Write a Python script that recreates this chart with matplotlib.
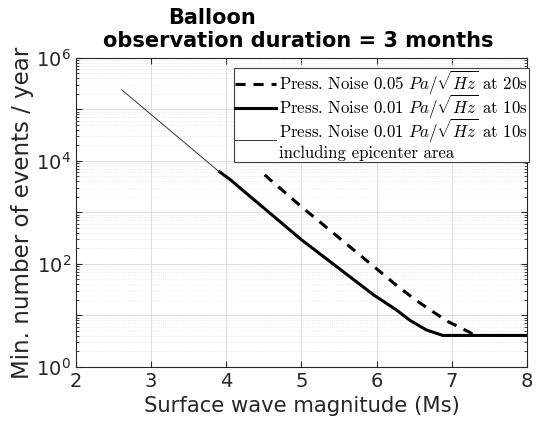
import matplotlib
matplotlib.use('Agg')
import matplotlib.pyplot as plt
import numpy as np
from matplotlib.font_manager import FontProperties
from matplotlib.ticker import LogLocator, FuncFormatter, NullFormatter

# Curves (magnitude Ms -> min. events / year)
mag_epi = [2.61, 3.91]
events_epi = [2.4e5, 6.1e3]

mag_10s = [3.91, 4.05, 5.0, 5.96, 6.26, 6.44, 6.66, 6.88, 8.0]
events_10s = [6166, 4365, 295, 25.1, 12.9, 8.1, 5.25, 4.1, 4.1]

mag_20s = [4.51, 5.0, 6.02, 6.26, 6.51, 6.73, 6.95, 7.24, 7.3]
events_20s = [5370, 1290, 76, 38.9, 20.4, 12.3, 7.6, 4.7, 4.1]

labels = [r'Press. Noise 0.05 $Pa/\sqrt{Hz}$ at 20s',
          r'Press. Noise 0.01 $Pa/\sqrt{Hz}$ at 10s',
          'Press. Noise 0.01 $Pa/\\sqrt{Hz}$ at 10s\nincluding epicenter area']

fig = plt.figure(figsize=(5.37, 4.23), dpi=100)
ax = fig.add_axes([0.1415, 0.1324, 0.8399, 0.7305])

ax.semilogy(mag_20s, events_20s, color='black', linewidth=2.2, dashes=(3.3, 2.6), label=labels[0])
ax.semilogy(mag_10s, events_10s, color='black', linewidth=2.2, label=labels[1])
ax.semilogy(mag_epi, events_epi, color='#333333', linewidth=0.7, label=labels[2])

ax.set_xlim(2, 8)
ax.set_ylim(1, 1e6)
ax.set_xticks([2, 3, 4, 5, 6, 7, 8])
ax.yaxis.set_major_locator(LogLocator(base=10, numticks=10))
ax.yaxis.set_minor_locator(LogLocator(base=10, subs=range(2, 10), numticks=20))


def fmt_decade(v, pos):
    e = int(round(np.log10(v)))
    return r'$10^{%d}$' % e if e % 2 == 0 else ''


ax.yaxis.set_major_formatter(FuncFormatter(fmt_decade))
ax.yaxis.set_minor_formatter(NullFormatter())

ax.grid(True, which='major', color='#d8d8d8', linewidth=0.6)
ax.grid(True, which='minor', axis='y', color='#dddddd', linewidth=0.5, linestyle=':')
ax.tick_params(which='both', direction='in', top=True, right=True, colors='#262626',
               labelsize=14)
ax.tick_params(which='major', length=4)
ax.tick_params(which='minor', length=2)
for s in ax.spines.values():
    s.set_color('#262626')

ax.set_xlabel('Surface wave magnitude (Ms)', fontsize=15.2, color='#262626', labelpad=4)
ax.set_ylabel('Min. number of events / year', fontsize=16.5, color='#262626', labelpad=2)

fig.text(212 / 537, 1 - 18 / 423, 'Balloon', ha='center', va='center',
         fontsize=15, fontweight='bold')
fig.text(298 / 537, 1 - 41 / 423, 'observation duration = 3 months', ha='center',
         va='center', fontsize=15, fontweight='bold')

leg_font = FontProperties(family='cmr10', size=12.1, math_fontfamily='cm')
leg = ax.legend(loc='upper left', bbox_to_anchor=(234 / 537, 1 - 68 / 423),
                bbox_transform=fig.transFigure, prop=leg_font, fancybox=False,
                framealpha=1, edgecolor='#404040', handlelength=2.45,
                handletextpad=0.2, borderpad=0.05, labelspacing=-0.22, borderaxespad=0)
leg.get_frame().set_linewidth(0.8)
for t in leg.get_texts():
    t.set_linespacing(1.0)

fig.savefig('out.png', dpi=100)
